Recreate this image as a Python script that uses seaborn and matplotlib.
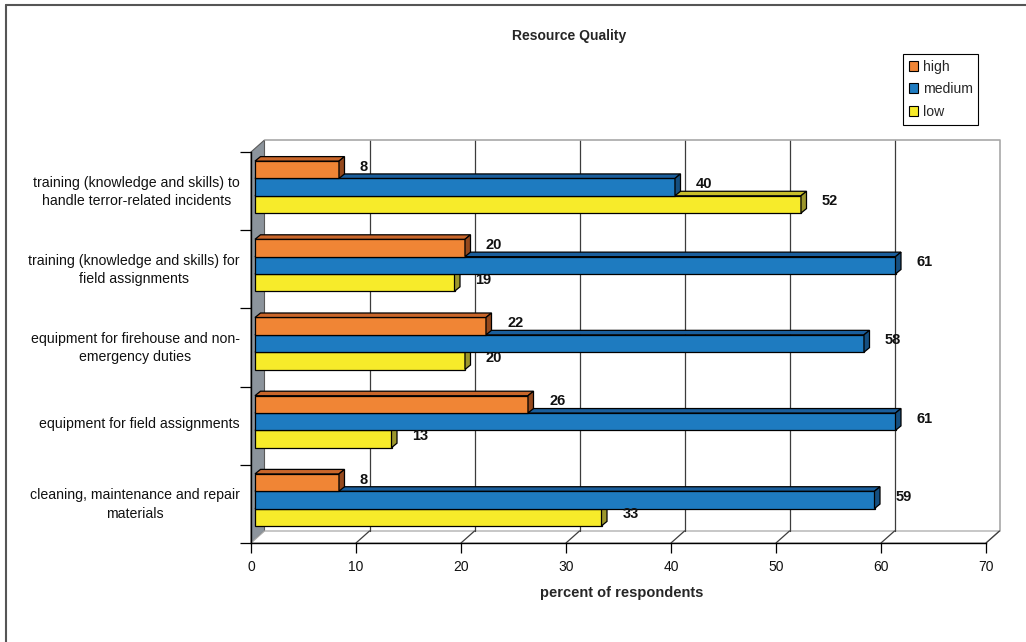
import pandas as pd
import seaborn as sns
import matplotlib.pyplot as plt
from matplotlib.patches import Polygon, Patch
from matplotlib.lines import Line2D
import matplotlib.transforms as mtransforms

sns.set_theme(style="white")
plt.rcParams["font.family"] = ["Liberation Sans", "DejaVu Sans"]

### data
items = [
    "training (knowledge and skills) to\nhandle terror-related incidents",
    "training (knowledge and skills) for\nfield assignments",
    "equipment for firehouse and non-\nemergency duties",
    "equipment for field assignments",
    "cleaning, maintenance and repair\nmaterials",
]
levels = ["high", "medium", "low"]
high = [8, 20, 22, 26, 8]
medium = [40, 61, 58, 61, 59]
low = [52, 19, 20, 13, 33]
x_ticks = [0, 10, 20, 30, 40, 50, 60, 70]

front = {"high": "#F08535", "medium": "#1E7BC0", "low": "#F7EB2A"}
top = {"high": "#C9662A", "medium": "#1A5E9C", "low": "#C8BE2A"}
side = {"high": "#95491D", "medium": "#154F80", "low": "#9C962C"}

df = pd.DataFrame({
    "item": items * 3,
    "quality": [l for l in levels for _ in items],
    "percent": high + medium + low,
})

W, H = 1026, 642
fig = plt.figure(figsize=(W / 100, H / 100), dpi=100)
ax = fig.add_axes([251 / W, 99 / H, 735 / W, 391 / H])
ax.set_facecolor("none")

sns.barplot(
    data=df, x="percent", y="item", hue="quality", hue_order=levels,
    palette=front, orient="h", width=0.665, saturation=1,
    edgecolor="black", linewidth=0.9, legend=False, ax=ax,
)
ax.set_xlim(0, 70)
ax.set_ylim(4.5, -0.5)

# pixel -> data offsets (axes are linear)
def px(dx, dy):
    return dx * 70 / 735, -dy * 5 / 391

wdx, wdy = px(13.5, 12)     # wall depth
bdx, bdy = px(5.5, 4.5)     # bar depth

# left wall, floor, back wall
ax.add_patch(Polygon([(0, 4.5), (0, -0.5), (wdx, -0.5 + wdy), (wdx, 4.5 + wdy)],
                     closed=True, facecolor="#8C949C", edgecolor="#5a5a5a",
                     lw=0.8, zorder=0.5, clip_on=False))
ax.add_patch(Polygon([(0, 4.5), (70, 4.5), (70 + wdx, 4.5 + wdy), (wdx, 4.5 + wdy)],
                     closed=True, facecolor="white", edgecolor="#a8a8a8",
                     lw=0.9, zorder=0.5, clip_on=False))
for xv in x_ticks[1:-1]:
    ax.plot([xv + wdx, xv + wdx], [4.5 + wdy, -0.5 + wdy], color="#3c3c3c",
            lw=0.9, zorder=0.8, clip_on=False)
ax.plot([wdx, 70 + wdx, 70 + wdx], [-0.5 + wdy, -0.5 + wdy, 4.5 + wdy],
        color="#a8a8a8", lw=1.2, zorder=0.8, clip_on=False)
for xv in x_ticks[1:]:
    ax.plot([xv, xv + wdx], [4.5, 4.5 + wdy], color="#3c3c3c", lw=0.9,
            zorder=0.9, clip_on=False)

# 3d faces and value labels
shift = ax.transData + mtransforms.Affine2D().translate(4, 4)
zs = {"high": 3.2, "medium": 3.1, "low": 3.0}
for lev, cont in zip(levels, ax.containers):
    for rect in cont:
        x0, y0 = rect.get_x(), rect.get_y()
        w, h = rect.get_width(), rect.get_height()
        rect.set_transform(shift)
        rect.set_zorder(zs[lev])
        x1 = x0 + w
        ax.add_patch(Polygon([(x0, y0), (x1, y0), (x1 + bdx, y0 + bdy), (x0 + bdx, y0 + bdy)],
                             closed=True, facecolor=top[lev], edgecolor="black",
                             lw=0.9, zorder=zs[lev], transform=shift, clip_on=False))
        ax.add_patch(Polygon([(x1, y0), (x1, y0 + h), (x1 + bdx, y0 + h + bdy), (x1 + bdx, y0 + bdy)],
                             closed=True, facecolor=side[lev], edgecolor="black",
                             lw=0.9, zorder=zs[lev], transform=shift, clip_on=False))
        lab_tr = shift + mtransforms.Affine2D().translate(21, 3)
        ax.text(x1, y0 + h / 2, f"{w:.0f}", transform=lab_tr, ha="left",
                va="center", fontsize=10.5, fontweight="bold", color="#111111",
                zorder=5, clip_on=False)

# axes
for s in ("top", "right"):
    ax.spines[s].set_visible(False)
for s in ("bottom", "left"):
    ax.spines[s].set_color("black")
    ax.spines[s].set_linewidth(1)
ax.set_xticks(x_ticks)
ax.tick_params(axis="x", bottom=True, length=7, width=0.9, color="black",
               labelsize=10, pad=5, labelcolor="#111111")
ax.set_yticks(range(len(items)))
ax.set_yticklabels(items, multialignment="center", linespacing=1.4)
ax.set_yticks([i - 0.5 for i in range(len(items) + 1)], minor=True)
ax.tick_params(axis="y", which="major", left=False, length=0, labelsize=10.2,
               pad=8, labelcolor="#111111")
ax.tick_params(axis="y", which="minor", left=True, length=8, width=0.9,
               color="black")
up = mtransforms.Affine2D().translate(0, 3)
for lbl in ax.get_yticklabels():
    lbl.set_transform(lbl.get_transform() + up)
ax.set_xlabel("")
ax.set_ylabel("")
ax.grid(False)

fig.text(569 / W, 1 - 36 / H, "Resource Quality", ha="center", va="center",
         fontsize=10, fontweight="bold")
fig.text(622 / W, 1 - 593 / H, "percent of respondents", ha="center",
         va="center", fontsize=10.5, fontweight="bold")

handles = [Patch(facecolor=front[l], edgecolor="black", lw=0.8) for l in levels]
leg = fig.legend(handles, levels, loc="upper left",
                 bbox_to_anchor=(903 / W, 1 - 54 / H), frameon=True,
                 fancybox=False, edgecolor="black", framealpha=1,
                 fontsize=10.1, handlelength=0.7, handleheight=0.7,
                 handletextpad=0.3, labelspacing=0.62, borderpad=0.4,
                 borderaxespad=0)
leg.get_frame().set_linewidth(0.8)

# chart frame
fig.add_artist(Line2D([6 / W, 1], [1 - 5 / H, 1 - 5 / H], color="#555555", lw=1.5))
fig.add_artist(Line2D([6 / W, 6 / W], [0, 1 - 5 / H], color="#555555", lw=1.5))

fig.savefig("out.png", dpi=100)
